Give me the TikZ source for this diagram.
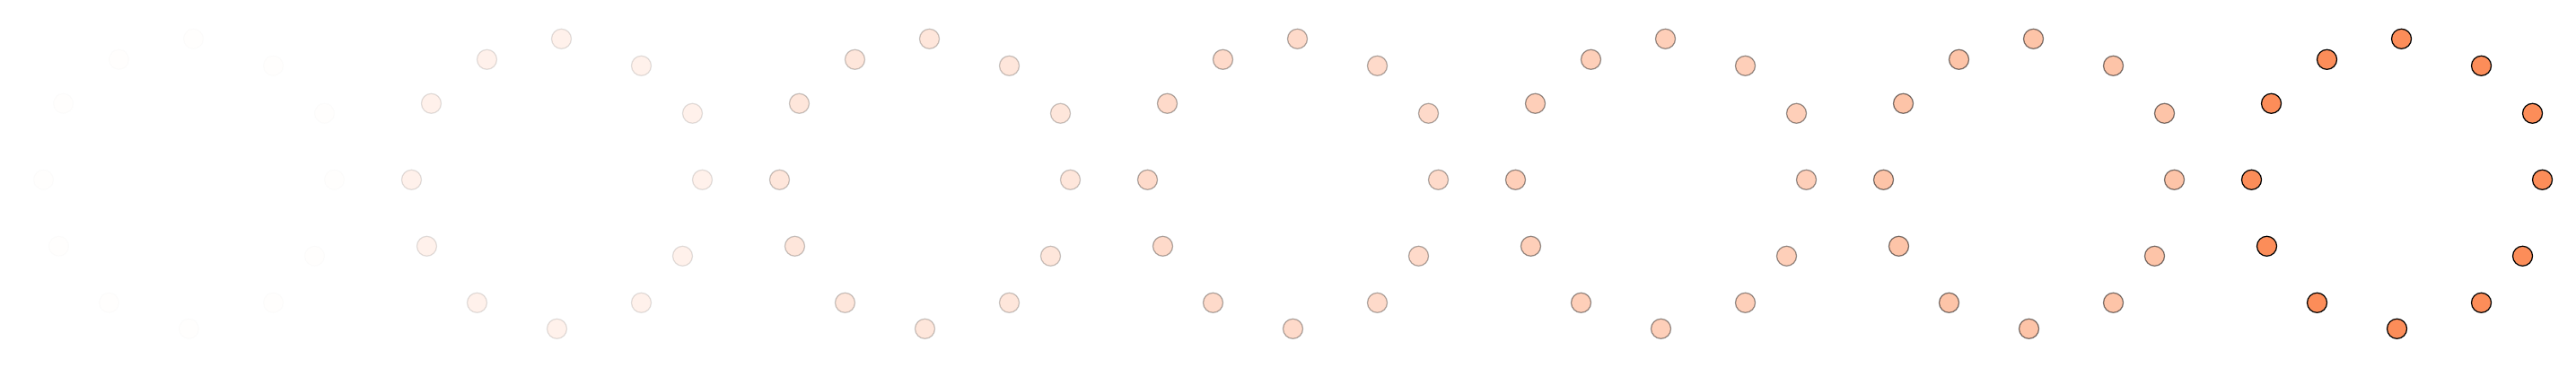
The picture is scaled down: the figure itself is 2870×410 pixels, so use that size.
\documentclass[tikz,border=0pt]{standalone}
\usepackage{tikz}

\definecolor{dotorange}{HTML}{FC8D59}
\tikzset{dot/.style={circle, draw=black, fill=dotorange, line width=0.35pt, minimum size=0.22cm, inner sep=0pt}}

\begin{document}
\begin{tikzpicture}[x=0.01cm, y=0.01cm]
    \useasboundingbox (0,0) rectangle (2870,410);

    % ring centres, faint to full
    \foreach \k/\op in {0/0.01, 1/0.12, 2/0.22, 3/0.32, 4/0.42, 5/0.52, 6/1} {
        \coordinate (C\k) at (210.5+410*\k, 209.7);
        \foreach \i/\dx/\dy in {1/5/157, 2/-78/134, 3/94/127, 4/-140/85, 5/151/74, 6/-162/0,
                                7/162/0, 8/-145/-74, 9/140/-85, 10/-89/-137, 11/94/-137, 12/0/-166}
            \node[dot, opacity=\op] (d\k-\i) at ([shift={(\dx,\dy)}]C\k) {};
    }
\end{tikzpicture}
\end{document}
